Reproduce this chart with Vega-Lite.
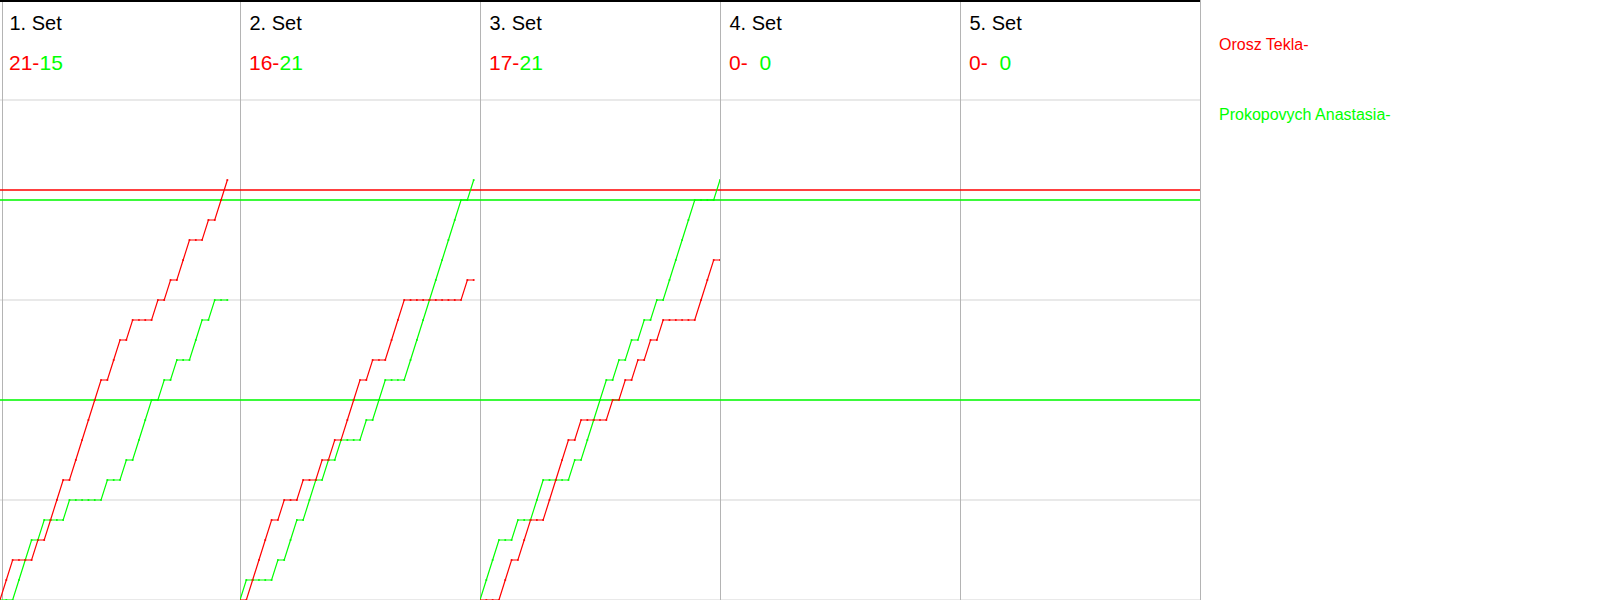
{
"$schema": "https://vega.github.io/schema/vega-lite/v6.json",
"padding": 0,
"background": "white",
"config": {"view": {"stroke": null}, "facet": {"spacing": 0}, "font": "Liberation Sans"},
"data": {"values": [
{"k":"h","s":1,"t":"1. Set","sa":"21-","sb":"15"},
{"k":"h","s":2,"t":"2. Set","sa":"16-","sb":"21"},
{"k":"h","s":3,"t":"3. Set","sa":"17-","sb":"21"},
{"k":"h","s":4,"t":"4. Set","sa":"0-","sb":"0"},
{"k":"h","s":5,"t":"5. Set","sa":"0-","sb":"0"},
{"k":"g","s":1,"v":0},{"k":"g","s":1,"v":5},{"k":"g","s":1,"v":10},{"k":"g","s":1,"v":15},{"k":"g","s":1,"v":20},{"k":"g","s":1,"v":25},
{"k":"g","s":2,"v":0},{"k":"g","s":2,"v":5},{"k":"g","s":2,"v":10},{"k":"g","s":2,"v":15},{"k":"g","s":2,"v":20},{"k":"g","s":2,"v":25},
{"k":"g","s":3,"v":0},{"k":"g","s":3,"v":5},{"k":"g","s":3,"v":10},{"k":"g","s":3,"v":15},{"k":"g","s":3,"v":20},{"k":"g","s":3,"v":25},
{"k":"g","s":4,"v":0},{"k":"g","s":4,"v":5},{"k":"g","s":4,"v":10},{"k":"g","s":4,"v":15},{"k":"g","s":4,"v":20},{"k":"g","s":4,"v":25},
{"k":"g","s":5,"v":0},{"k":"g","s":5,"v":5},{"k":"g","s":5,"v":10},{"k":"g","s":5,"v":15},{"k":"g","s":5,"v":20},{"k":"g","s":5,"v":25},
{"k":"ra","s":1,"v":20.5},{"k":"rb","s":1,"v":20},{"k":"rb","s":1,"v":10},
{"k":"ra","s":2,"v":20.5},{"k":"rb","s":2,"v":20},{"k":"rb","s":2,"v":10},
{"k":"ra","s":3,"v":20.5},{"k":"rb","s":3,"v":20},{"k":"rb","s":3,"v":10},
{"k":"ra","s":4,"v":20.5},{"k":"rb","s":4,"v":20},{"k":"rb","s":4,"v":10},
{"k":"ra","s":5,"v":20.5},{"k":"rb","s":5,"v":20},{"k":"rb","s":5,"v":10},
{"k":"e","s":6},
{"k":"l","s":6,"n":"Orosz Tekla-","c":"a"},
{"k":"l","s":6,"n":"Prokopovych Anastasia-","c":"b"},
{"k":"p","s":1,"r":0,"a":0,"b":0},{"k":"p","s":1,"r":1,"a":1,"b":0},{"k":"p","s":1,"r":2,"a":2,"b":0},{"k":"p","s":1,"r":3,"a":2,"b":1},{"k":"p","s":1,"r":4,"a":2,"b":2},{"k":"p","s":1,"r":5,"a":2,"b":3},{"k":"p","s":1,"r":6,"a":3,"b":3},{"k":"p","s":1,"r":7,"a":3,"b":4},{"k":"p","s":1,"r":8,"a":4,"b":4},{"k":"p","s":1,"r":9,"a":5,"b":4},{"k":"p","s":1,"r":10,"a":6,"b":4},{"k":"p","s":1,"r":11,"a":6,"b":5},{"k":"p","s":1,"r":12,"a":7,"b":5},{"k":"p","s":1,"r":13,"a":8,"b":5},{"k":"p","s":1,"r":14,"a":9,"b":5},{"k":"p","s":1,"r":15,"a":10,"b":5},{"k":"p","s":1,"r":16,"a":11,"b":5},{"k":"p","s":1,"r":17,"a":11,"b":6},{"k":"p","s":1,"r":18,"a":12,"b":6},{"k":"p","s":1,"r":19,"a":13,"b":6},{"k":"p","s":1,"r":20,"a":13,"b":7},{"k":"p","s":1,"r":21,"a":14,"b":7},{"k":"p","s":1,"r":22,"a":14,"b":8},{"k":"p","s":1,"r":23,"a":14,"b":9},{"k":"p","s":1,"r":24,"a":14,"b":10},{"k":"p","s":1,"r":25,"a":15,"b":10},{"k":"p","s":1,"r":26,"a":15,"b":11},{"k":"p","s":1,"r":27,"a":16,"b":11},{"k":"p","s":1,"r":28,"a":16,"b":12},{"k":"p","s":1,"r":29,"a":17,"b":12},{"k":"p","s":1,"r":30,"a":18,"b":12},{"k":"p","s":1,"r":31,"a":18,"b":13},{"k":"p","s":1,"r":32,"a":18,"b":14},{"k":"p","s":1,"r":33,"a":19,"b":14},{"k":"p","s":1,"r":34,"a":19,"b":15},{"k":"p","s":1,"r":35,"a":20,"b":15},{"k":"p","s":1,"r":36,"a":21,"b":15},
{"k":"p","s":2,"r":0,"a":0,"b":0},{"k":"p","s":2,"r":1,"a":0,"b":1},{"k":"p","s":2,"r":2,"a":1,"b":1},{"k":"p","s":2,"r":3,"a":2,"b":1},{"k":"p","s":2,"r":4,"a":3,"b":1},{"k":"p","s":2,"r":5,"a":4,"b":1},{"k":"p","s":2,"r":6,"a":4,"b":2},{"k":"p","s":2,"r":7,"a":5,"b":2},{"k":"p","s":2,"r":8,"a":5,"b":3},{"k":"p","s":2,"r":9,"a":5,"b":4},{"k":"p","s":2,"r":10,"a":6,"b":4},{"k":"p","s":2,"r":11,"a":6,"b":5},{"k":"p","s":2,"r":12,"a":6,"b":6},{"k":"p","s":2,"r":13,"a":7,"b":6},{"k":"p","s":2,"r":14,"a":7,"b":7},{"k":"p","s":2,"r":15,"a":8,"b":7},{"k":"p","s":2,"r":16,"a":8,"b":8},{"k":"p","s":2,"r":17,"a":9,"b":8},{"k":"p","s":2,"r":18,"a":10,"b":8},{"k":"p","s":2,"r":19,"a":11,"b":8},{"k":"p","s":2,"r":20,"a":11,"b":9},{"k":"p","s":2,"r":21,"a":12,"b":9},{"k":"p","s":2,"r":22,"a":12,"b":10},{"k":"p","s":2,"r":23,"a":12,"b":11},{"k":"p","s":2,"r":24,"a":13,"b":11},{"k":"p","s":2,"r":25,"a":14,"b":11},{"k":"p","s":2,"r":26,"a":15,"b":11},{"k":"p","s":2,"r":27,"a":15,"b":12},{"k":"p","s":2,"r":28,"a":15,"b":13},{"k":"p","s":2,"r":29,"a":15,"b":14},{"k":"p","s":2,"r":30,"a":15,"b":15},{"k":"p","s":2,"r":31,"a":15,"b":16},{"k":"p","s":2,"r":32,"a":15,"b":17},{"k":"p","s":2,"r":33,"a":15,"b":18},{"k":"p","s":2,"r":34,"a":15,"b":19},{"k":"p","s":2,"r":35,"a":15,"b":20},{"k":"p","s":2,"r":36,"a":16,"b":20},{"k":"p","s":2,"r":37,"a":16,"b":21},
{"k":"p","s":3,"r":0,"a":0,"b":0},{"k":"p","s":3,"r":1,"a":0,"b":1},{"k":"p","s":3,"r":2,"a":0,"b":2},{"k":"p","s":3,"r":3,"a":0,"b":3},{"k":"p","s":3,"r":4,"a":1,"b":3},{"k":"p","s":3,"r":5,"a":2,"b":3},{"k":"p","s":3,"r":6,"a":2,"b":4},{"k":"p","s":3,"r":7,"a":3,"b":4},{"k":"p","s":3,"r":8,"a":4,"b":4},{"k":"p","s":3,"r":9,"a":4,"b":5},{"k":"p","s":3,"r":10,"a":4,"b":6},{"k":"p","s":3,"r":11,"a":5,"b":6},{"k":"p","s":3,"r":12,"a":6,"b":6},{"k":"p","s":3,"r":13,"a":7,"b":6},{"k":"p","s":3,"r":14,"a":8,"b":6},{"k":"p","s":3,"r":15,"a":8,"b":7},{"k":"p","s":3,"r":16,"a":9,"b":7},{"k":"p","s":3,"r":17,"a":9,"b":8},{"k":"p","s":3,"r":18,"a":9,"b":9},{"k":"p","s":3,"r":19,"a":9,"b":10},{"k":"p","s":3,"r":20,"a":9,"b":11},{"k":"p","s":3,"r":21,"a":10,"b":11},{"k":"p","s":3,"r":22,"a":10,"b":12},{"k":"p","s":3,"r":23,"a":11,"b":12},{"k":"p","s":3,"r":24,"a":11,"b":13},{"k":"p","s":3,"r":25,"a":12,"b":13},{"k":"p","s":3,"r":26,"a":12,"b":14},{"k":"p","s":3,"r":27,"a":13,"b":14},{"k":"p","s":3,"r":28,"a":13,"b":15},{"k":"p","s":3,"r":29,"a":14,"b":15},{"k":"p","s":3,"r":30,"a":14,"b":16},{"k":"p","s":3,"r":31,"a":14,"b":17},{"k":"p","s":3,"r":32,"a":14,"b":18},{"k":"p","s":3,"r":33,"a":14,"b":19},{"k":"p","s":3,"r":34,"a":14,"b":20},{"k":"p","s":3,"r":35,"a":15,"b":20},{"k":"p","s":3,"r":36,"a":16,"b":20},{"k":"p","s":3,"r":37,"a":17,"b":20},{"k":"p","s":3,"r":38,"a":17,"b":21}
]},
"facet": {"column": {"field": "s", "type": "ordinal", "header": null}},
"spacing": 0,
"bounds": "flush",
"spec": {
"width": 240,
"height": 600,
"layer": [
{"transform": [{"filter": "datum.k == 'g'"}],
 "mark": {"type": "rule", "color": "#d3d3d3", "strokeWidth": 1, "clip": true},
 "encoding": {"y": {"field": "v", "type": "quantitative", "scale": {"domain": [0, 30], "nice": false, "zero": false}, "axis": null}}},
{"transform": [{"filter": "(datum.k == 'h' && datum.s > 1) || datum.k == 'e'"}],
 "mark": {"type": "rule", "color": "#b4b4b4", "strokeWidth": 1, "xOffset": 0.5, "clip": true},
 "encoding": {"x": {"datum": 0, "type": "quantitative", "scale": {"domain": [0, 38], "nice": false, "zero": false}, "axis": null}}},
{"transform": [{"filter": "datum.k == 'h' && datum.s == 1"}],
 "mark": {"type": "rule", "color": "#b4b4b4", "strokeWidth": 1, "xOffset": 2.5, "clip": true},
 "encoding": {"x": {"datum": 0, "type": "quantitative", "axis": null}}},
{"transform": [{"filter": "datum.k == 'ra'"}],
 "mark": {"type": "rule", "color": "#ff0000", "strokeWidth": 1.3, "clip": true},
 "encoding": {"y": {"field": "v", "type": "quantitative", "axis": null}}},
{"transform": [{"filter": "datum.k == 'rb'"}],
 "mark": {"type": "rule", "color": "#00ff00", "strokeWidth": 1.3, "clip": true},
 "encoding": {"y": {"field": "v", "type": "quantitative", "axis": null}}},
{"transform": [{"filter": "datum.k == 'p'"}],
 "mark": {"type": "line", "color": "#00ff00", "strokeWidth": 1.2, "clip": true},
 "encoding": {"x": {"field": "r", "type": "quantitative", "axis": null}, "y": {"field": "b", "type": "quantitative", "axis": null}}},
{"transform": [{"filter": "datum.k == 'p'"}],
 "mark": {"type": "line", "color": "#ff0000", "strokeWidth": 1.2, "clip": true},
 "encoding": {"x": {"field": "r", "type": "quantitative", "axis": null}, "y": {"field": "a", "type": "quantitative", "axis": null}}},
{"transform": [{"filter": "datum.k == 'p'"}],
 "mark": {"type": "square", "color": "#00ff00", "size": 3, "filled": true, "opacity": 1, "clip": true},
 "encoding": {"x": {"field": "r", "type": "quantitative", "axis": null}, "y": {"field": "b", "type": "quantitative", "axis": null}}},
{"transform": [{"filter": "datum.k == 'p'"}],
 "mark": {"type": "square", "color": "#ff0000", "size": 3, "filled": true, "opacity": 1, "clip": true},
 "encoding": {"x": {"field": "r", "type": "quantitative", "axis": null}, "y": {"field": "a", "type": "quantitative", "axis": null}}},
{"transform": [{"filter": "datum.k == 'h'"}],
 "mark": {"type": "text", "align": "left", "baseline": "alphabetic", "dx": 9.5, "dy": 30, "fontSize": 20, "color": "#000000"},
 "encoding": {"x": {"datum": 0, "type": "quantitative"}, "y": {"datum": 30, "type": "quantitative"}, "text": {"field": "t"}}},
{"transform": [{"filter": "datum.k == 'h'"}],
 "mark": {"type": "text", "align": "left", "baseline": "alphabetic", "dx": 9, "dy": 70, "fontSize": 21, "color": "#ff0000"},
 "encoding": {"x": {"datum": 0, "type": "quantitative"}, "y": {"datum": 30, "type": "quantitative"}, "text": {"field": "sa"}}},
{"transform": [{"filter": "datum.k == 'h'"}],
 "mark": {"type": "text", "align": "left", "baseline": "alphabetic", "dx": 39.5, "dy": 70, "fontSize": 21, "color": "#00ff00"},
 "encoding": {"x": {"datum": 0, "type": "quantitative"}, "y": {"datum": 30, "type": "quantitative"}, "text": {"field": "sb"}}},
{"transform": [{"filter": "datum.k == 'h'"}],
 "mark": {"type": "rule", "color": "#000000", "strokeWidth": 2, "yOffset": 1, "clip": true},
 "encoding": {"y": {"datum": 30, "type": "quantitative"}}},
{"transform": [{"filter": "datum.k == 'l' && datum.c == 'a'"}],
 "mark": {"type": "text", "align": "left", "baseline": "alphabetic", "dx": 19, "dy": 50, "fontSize": 16, "color": "#ff0000"},
 "encoding": {"x": {"datum": 0, "type": "quantitative"}, "y": {"datum": 30, "type": "quantitative"}, "text": {"field": "n"}}},
{"transform": [{"filter": "datum.k == 'l' && datum.c == 'b'"}],
 "mark": {"type": "text", "align": "left", "baseline": "alphabetic", "dx": 19, "dy": 120, "fontSize": 16, "color": "#00ff00"},
 "encoding": {"x": {"datum": 0, "type": "quantitative"}, "y": {"datum": 30, "type": "quantitative"}, "text": {"field": "n"}}}
]
}
}
